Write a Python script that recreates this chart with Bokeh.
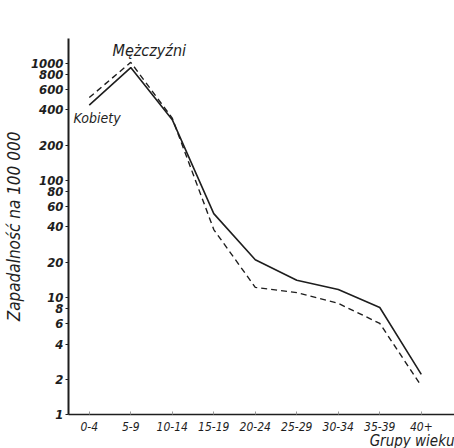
from bokeh.plotting import figure
from bokeh.models import FixedTicker, Range1d, Label, PrintfTickFormatter, Title
from bokeh.embed import file_html
from bokeh.resources import INLINE

age_groups = ["0-4", "5-9", "10-14", "15-19", "20-24", "25-29", "30-34", "35-39", "40+"]
kobiety = [440, 920, 330, 52, 21, 14, 11.7, 8.2, 2.2]
mezczyzni = [510, 1020, 340, 38, 12.2, 11, 8.9, 6.0, 1.75]
y_ticks = [1, 2, 4, 6, 8, 10, 20, 40, 60, 80, 100, 200, 400, 600, 800, 1000]

FONT = "DejaVu Sans Condensed"
INK = "#1e1e1e"

p = figure(width=454, height=448, y_axis_type="log",
           x_range=Range1d(-0.5, 8.8), y_range=Range1d(1, 1630),
           output_backend="svg", toolbar_location=None,
           min_border_left=64, min_border_right=0, min_border_top=38, min_border_bottom=34)
p.outline_line_color = None
p.xgrid.visible = False
p.ygrid.visible = False
p.background_fill_color = "white"
p.border_fill_color = "white"

xs = list(range(len(age_groups)))
p.line(xs, kobiety, line_color=INK, line_width=1.6)
p.line(xs, mezczyzni, line_color=INK, line_width=1.4, line_dash="6 4")

# y axis
p.yaxis.ticker = FixedTicker(ticks=y_ticks, minor_ticks=[])
p.yaxis.formatter = PrintfTickFormatter(format="%d")
p.yaxis.major_label_text_font = FONT
p.yaxis.major_label_text_font_style = "bold italic"
p.yaxis.major_label_text_font_size = "13px"
p.yaxis.major_label_text_color = INK
p.yaxis.axis_line_width = 2
p.yaxis.axis_line_color = INK
p.yaxis.major_tick_out = 3
p.yaxis.major_tick_in = 0
p.yaxis.minor_tick_out = 0
p.yaxis.minor_tick_in = 0
p.yaxis.major_tick_line_color = INK
p.yaxis.major_label_standoff = 2
p.yaxis.axis_label = "Zapadalność na 100 000"
p.yaxis.axis_label_text_font = FONT
p.yaxis.axis_label_text_font_style = "italic"
p.yaxis.axis_label_text_font_size = "17px"
p.yaxis.axis_label_text_color = INK
p.yaxis.axis_label_standoff = 4

# x axis
p.xaxis.ticker = FixedTicker(ticks=xs, minor_ticks=[])
p.xaxis.major_label_overrides = {i: g for i, g in enumerate(age_groups)}
p.xaxis.major_label_text_font = FONT
p.xaxis.major_label_text_font_style = "italic"
p.xaxis.major_label_text_font_size = "12px"
p.xaxis.major_label_text_color = INK
p.xaxis.axis_line_width = 1.6
p.xaxis.axis_line_color = INK
p.xaxis.major_tick_out = 0
p.xaxis.major_tick_in = 3
p.xaxis.major_tick_line_color = "#999999"
p.xaxis.major_label_standoff = 7

p.add_layout(Title(text="Grupy wieku", align="right", text_font=FONT,
                   text_font_style="italic", text_font_size="15px",
                   text_color=INK, standoff=-8), "below")

p.add_layout(Label(x=44, y=364, x_units="screen", y_units="screen",
                   text="Mężczyźni", text_font=FONT, text_font_style="italic",
                   text_font_size="16px", text_color=INK, text_baseline="alphabetic"))
p.add_layout(Label(x=5, y=297, x_units="screen", y_units="screen",
                   text="Kobiety", text_font=FONT, text_font_style="italic",
                   text_font_size="14px", text_color=INK, text_baseline="alphabetic"))

open("out.html", "w").write(file_html(p, INLINE))
